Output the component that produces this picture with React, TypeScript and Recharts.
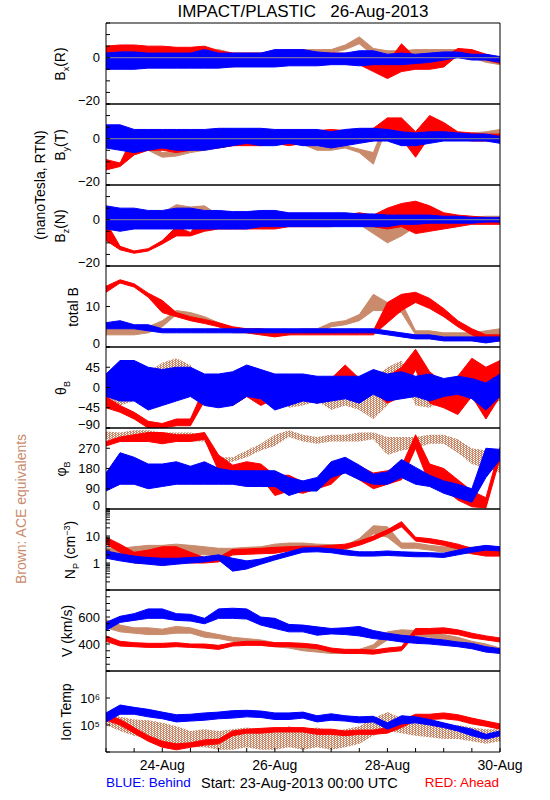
import React from 'react';
import { ComposedChart, Area, XAxis, YAxis, ReferenceLine } from 'recharts';

const BLUE = '#0000ff';
const RED = '#ff0000';
const BROWN = '#c98b6c';
const FONT = '"Liberation Sans", Arial, sans-serif';

// hours since 23-Aug-2013 00:00 UTC
const hours = [0, 6, 12, 18, 24, 30, 36, 42, 48, 54, 60, 66, 72, 78, 84, 90, 96, 102, 108, 114, 120, 126, 132, 138, 144, 150, 156, 162, 168];
const timeTicks = [0, 12, 24, 36, 48, 60, 72, 84, 96, 108, 120, 132, 144, 156, 168];
const dayTickAt = [24, 72, 120, 168];
const dayTickText = ['24-Aug', '26-Aug', '28-Aug', '30-Aug'];

// each entry: [low, high] spread of the samples in that 6 h slot
// Bx (R), nT
const bxBehind = [[-5, 2], [-5, 2.5], [-5, 2.5], [-4.5, 2], [-4.5, 2], [-4.5, 2], [-4.5, 2], [-4.5, 3.5], [-4.5, 2], [-4, 2], [-4, 2], [-4, 2], [-4, 3.5], [-3.5, 3.5], [-3.5, 3.5], [-3.5, 2.5], [-3, 2], [-3, 2], [-3.5, 3], [-3, 3], [-3, 1.5], [-3, 2], [-2.5, 1.5], [-2, 2], [-1, 2.5], [0, 2.5], [-1, 1.5], [-1, 1.5], [-2, 0.5]];
const bxAhead = [[-3, 5], [1.5, 5.5], [1.5, 5.5], [1, 5], [0, 5], [1.5, 4.5], [2, 4.5], [2.5, 5], [-3, 3], [-4, 2], [-3, 2], [-3, 2], [-3, 2], [-3, 2], [-3, 2], [-3, 2], [-2.5, 2], [-2.5, 2], [-3, 1], [-6, 0], [-9, -2], [-6, 6], [-5, 0], [-5, 0], [-4, 0], [1, 4], [1, 3.5], [-1, 1.5], [-2.5, 0]];
const bxAce = [[2.5, 5], [2.5, 5], [2.5, 4.5], [2, 4], [2, 4], [2, 4], [2, 4], [2, 4], [1, 3.5], [0, 2], [0, 2], [0, 2], [1, 3], [2, 3.5], [2, 3.5], [2, 3.5], [2, 3.5], [3.5, 5.5], [6, 9], [1, 4], [0, 3], [1, 3], [1.5, 3.5], [1.5, 3.5], [1.5, 3.5], [1, 3.5], [0, 2.5], [-2, 1], [-3, 0]];

// By (T), nT
const byBehind = [[-4, 6], [-5, 6], [-6, 4], [-5, 4], [-4, 4], [-5, 4], [-5, 4], [-5, 4], [-4, 4.5], [-3, 4.5], [-2, 4.5], [-3, 4.5], [-3, 4], [-2, 4], [-3, 4], [-3, 4], [-4, 3], [-3, 4], [-2, 4.5], [-1, 4.5], [-1, 4], [-3, 3], [-3, 2.5], [-2, 3], [-1, 3], [-1, 2.5], [-1, 2], [-1, 2], [-2, 1]];
const byAhead = [[-13.5, -9], [-12, -10.5], [-7, 2], [-5, 3], [-5, 3], [-6, 3], [-5, 3], [-4, 3], [-4, 3], [-3, 3], [-3, 3.5], [-3, 3.5], [-2, 3.5], [-3, 3], [-2, 3], [-2, 3.5], [-2, 4], [-2, 3.5], [-1, 4], [-1, 4.5], [3, 9], [0, 9], [-8, 3], [1, 10], [0, 7], [0, 3], [-1, 2.5], [-1, 2], [-1, 2]];
const byAce = [[-4, 0], [-3, 1], [-4, 0], [-5, -2], [-8, -6], [-7.5, -6], [-6, -4.5], [-5, -3.5], [-4, -2.5], [-3, -1.5], [-2.5, -1.5], [-2.5, -1.5], [-2.5, -1.5], [-2.5, -1.5], [-2.5, -1], [-5, -3.5], [-5, -4], [-4, -3], [-6, -4.5], [-11, -6], [6, 9], [0, 3], [-1, 2], [-1, 2], [0, 2], [0, 2], [0, 2.5], [0, 3], [1, 4]];

// Bz (N), nT
const bzBehind = [[-4, 6], [-5, 5], [-4, 5], [-4, 4], [-4, 4], [-4, 5], [-4, 5], [-4, 4], [-4, 4], [-4, 3.5], [-4, 3.5], [-3, 4], [-3, 4], [-3, 3], [-3, 3], [-3, 3], [-3, 3], [-3, 3], [-3, 2.5], [-3, 2.5], [-3, 2], [-2, 2], [-2, 2], [-1.5, 2], [-1.5, 1.5], [-1.5, 1.5], [-1.5, 1], [-1, 1], [-1, 1]];
const bzAhead = [[-9, -1], [-13, -11.5], [-14.5, -13.5], [-13.5, -12.5], [-10.5, -9], [-7, -3], [-7, -5.5], [-5, 2], [-4, 2], [-4, 3], [-4, 2], [-4, 2], [-4, 2], [-3, 2], [-3, 2], [-3, 2], [-3, 2], [-2, 2], [-2, 3], [-3, 2], [-4, 5], [-3, 7], [-6, 8], [-5, 6], [-4, 3], [-3, 2], [-2, 1.5], [-2, 1], [-2, 1]];
const bzAce = [[-4, 0], [-3, 1], [-3, 1], [-2, 2], [0, 3], [4, 6.5], [3.5, 5.5], [3, 6], [-1, 2], [-2, 1], [-2, 1], [-2, 1], [-2, 1], [-2, 1], [-2, 1], [-2, 1], [-2, 1], [-2, 1], [-2, 0.5], [-6, 1], [-10, -3], [-7, -2], [-3, 1], [-2, 1], [-2, 1], [-2, 1], [-1.5, 1], [-1, 1.5], [-1, 1.5]];

// total B, nT
const btBehind = [[4.5, 6], [4.5, 6.5], [4.5, 5.5], [4, 5.5], [3.5, 4.5], [3.5, 4.5], [3.5, 4.5], [3.5, 4.5], [3.5, 4.5], [3.5, 4.5], [3.5, 4.5], [3.5, 4.5], [3.5, 4.5], [3.5, 4.5], [3.5, 4.5], [3.5, 4.5], [3.5, 4.5], [3.5, 4.5], [3.5, 4.5], [3.5, 4.5], [3, 4], [2.5, 3.5], [2, 3], [2, 3], [1.5, 2.5], [1.5, 2.5], [1.5, 2.5], [1, 2.5], [1.5, 2.5]];
const btAhead = [[13.5, 15], [15.8, 16.6], [14.8, 15.6], [12.3, 13.3], [8.5, 11.5], [7.5, 8.5], [6.5, 7.5], [5.8, 6.8], [5, 6], [4, 5], [3.5, 4.5], [3, 4.5], [2.5, 4], [3, 4], [3, 4], [3, 4], [3, 4], [3, 4], [3, 4], [3, 4], [6, 11], [9, 13], [11, 13.5], [9.5, 12], [7.5, 9.5], [5, 6.5], [3, 4.5], [1.5, 3], [1.5, 3]];
const btAce = [[3, 4.5], [3, 4.5], [3, 4.5], [3.5, 5], [5, 6.5], [8, 9], [7.5, 8.5], [6.5, 7.5], [5, 6], [3.5, 4.5], [3.5, 4.5], [3, 4], [3, 4], [3, 4], [3.5, 4.5], [3.5, 4.5], [5, 6], [5.5, 6.5], [6.5, 8], [9, 13], [9, 11], [8.5, 11], [3, 4], [3, 4], [2.5, 3.5], [2.5, 3.5], [2, 3.5], [2.5, 4], [3, 4.5]];

// theta_B, deg (dense core of the scatter)
const thBehind = [[-20, 30], [-30, 60], [-30, 60], [-50, 45], [-40, 40], [-30, 45], [-20, 45], [-40, 30], [-45, 30], [-40, 35], [-20, 50], [-25, 40], [-50, 30], [-40, 30], [-30, 30], [-35, 25], [-30, 25], [-25, 25], [-35, 25], [-15, 40], [-30, 30], [-25, 35], [-20, 25], [-30, 30], [-20, 20], [-15, 25], [-25, 20], [-50, 10], [-20, 30]];
const thAhead = [[-45, -20], [-55, -40], [-70, -55], [-90, -75], [-90, -80], [-85, -70], [-85, -70], [-30, 0], [-25, 15], [-40, 10], [-20, 25], [-40, 10], [-25, 20], [-30, 10], [-25, 10], [-35, 10], [-20, 20], [15, 50], [-20, 20], [-10, 20], [-35, 25], [-20, 45], [40, 85], [-35, 35], [-45, 10], [-60, 25], [-20, 65], [-70, 45], [-20, 60]];
const thAce = [[-20, 30], [-40, 20], [-30, 5], [10, 35], [25, 55], [35, 65], [20, 50], [-30, 10], [-20, 20], [-40, 10], [-20, 20], [-30, 10], [-20, 10], [-45, 0], [-40, -5], [-30, -5], [-50, -15], [-40, -5], [-50, -10], [-70, 20], [-40, 45], [30, 60], [-40, 0], [-45, -5], [-30, 10], [-45, 0], [-20, 20], [-45, 10], [-30, 30]];

// phi_B, deg (dense core of the scatter)
const phBehind = [[80, 160], [110, 250], [110, 230], [90, 200], [100, 200], [110, 210], [110, 190], [110, 210], [110, 180], [110, 170], [100, 170], [100, 170], [100, 170], [60, 140], [80, 125], [80, 140], [140, 210], [160, 230], [130, 195], [110, 155], [110, 165], [140, 220], [110, 185], [100, 150], [70, 125], [50, 110], [30, 90], [140, 270], [220, 265]];
const phAhead = [[280, 300], [300, 320], [300, 330], [300, 340], [290, 340], [300, 330], [300, 330], [310, 340], [170, 240], [160, 195], [160, 210], [140, 200], [60, 150], [80, 150], [70, 120], [90, 135], [110, 155], [170, 220], [130, 190], [90, 160], [110, 170], [130, 190], [270, 330], [110, 200], [90, 180], [40, 130], [10, 80], [5, 50], [225, 275]];
const phAce = [[310, 345], [300, 340], [320, 350], [320, 350], [310, 340], [310, 340], [300, 340], [300, 330], [200, 230], [210, 230], [230, 260], [260, 290], [280, 330], [320, 350], [300, 330], [290, 320], [300, 330], [300, 330], [300, 340], [310, 340], [240, 320], [260, 320], [270, 320], [290, 330], [290, 330], [250, 310], [200, 270], [180, 260], [160, 230]];

// proton density, cm^-3
const npBehind = [[1.5, 2.8], [1.2, 2.2], [1.0, 1.8], [0.9, 1.6], [0.8, 1.5], [0.9, 1.5], [1.0, 1.6], [1.1, 1.7], [1.3, 2.0], [0.5, 1.5], [0.6, 1.2], [0.9, 1.4], [1.3, 1.9], [1.8, 2.6], [2.5, 3.6], [2.6, 3.7], [2.4, 3.4], [2.0, 3.0], [1.8, 2.6], [1.8, 2.6], [1.9, 2.8], [1.8, 2.6], [1.7, 2.5], [1.7, 2.4], [1.6, 2.3], [2.0, 3.0], [2.5, 3.8], [3.0, 4.5], [2.8, 4.0]];
const npAhead = [[5, 9], [2.5, 5], [1.0, 2.5], [1.0, 3.0], [0.9, 4.0], [1.2, 4.0], [1.0, 2.5], [1.0, 1.6], [1.1, 1.6], [2.0, 3.2], [2.1, 3.3], [2.2, 3.5], [2.3, 3.8], [2.8, 4.0], [3.0, 4.2], [3.0, 4.2], [3.0, 4.5], [3.4, 5.0], [4.5, 6.5], [7, 10], [12, 17], [22, 34], [6.5, 9.0], [5.5, 8], [4.5, 6.5], [3.3, 5], [2.2, 3.5], [1.8, 3.0], [1.8, 3.2]];
const npAce = [[1.5, 3.5], [1.8, 3.5], [2.0, 4.0], [2.0, 4.5], [2.0, 4.5], [2.2, 5.0], [2.2, 4.5], [2.0, 4.0], [1.8, 3.5], [2.0, 3.5], [2.2, 3.8], [2.5, 4.0], [3.0, 5.0], [3.5, 5.5], [3.5, 5.5], [3.5, 5.0], [3.2, 4.8], [3.0, 4.5], [5, 8], [12, 24], [9, 22], [3.5, 5.5], [3.5, 5.5], [3.0, 4.5], [2.5, 4.0], [2.5, 4.0], [2.2, 3.8], [2.0, 3.5], [2.0, 3.2]];

// bulk speed, km/s
const vBehind = [[500, 560], [560, 605], [575, 625], [590, 660], [590, 660], [575, 625], [570, 620], [550, 590], [590, 660], [590, 665], [585, 660], [540, 600], [515, 590], [490, 545], [490, 540], [465, 527], [475, 515], [470, 520], [460, 530], [440, 500], [430, 480], [415, 465], [405, 455], [400, 440], [390, 430], [380, 415], [365, 405], [340, 380], [330, 365]];
const vAhead = [[420, 460], [385, 420], [380, 410], [375, 405], [375, 405], [380, 410], [375, 400], [370, 400], [360, 390], [385, 410], [390, 420], [390, 420], [380, 410], [380, 410], [375, 405], [365, 395], [340, 370], [330, 360], [330, 360], [325, 355], [340, 370], [350, 380], [470, 515], [475, 515], [480, 520], [470, 505], [445, 480], [430, 460], [415, 445]];
const vAce = [[520, 580], [490, 540], [480, 520], [470, 520], [470, 510], [480, 530], [480, 520], [450, 490], [440, 470], [420, 450], [400, 440], [390, 430], [380, 410], [370, 400], [350, 380], [340, 370], [330, 360], [330, 360], [330, 360], [360, 395], [430, 490], [460, 505], [460, 500], [450, 490], [430, 470], [410, 450], [390, 420], [370, 400], [340, 370]];

// ion temperature, K
const tBehind = [[1.3e5, 2.8e5], [2.5e5, 5.5e5], [2.5e5, 4.5e5], [2.0e5, 3.8e5], [1.7e5, 3.0e5], [1.3e5, 2.4e5], [1.4e5, 2.5e5], [1.5e5, 2.8e5], [1.7e5, 3.0e5], [1.8e5, 3.4e5], [2.0e5, 3.5e5], [1.9e5, 3.3e5], [1.6e5, 2.8e5], [1.6e5, 2.8e5], [1.8e5, 3.0e5], [1.3e5, 2.2e5], [1.5e5, 2.6e5], [1.4e5, 2.2e5], [1.2e5, 2.0e5], [1.3e5, 2.1e5], [7e4, 1.2e5], [1.1e5, 2.2e5], [1.2e5, 2.0e5], [1.0e5, 1.6e5], [8e4, 1.2e5], [6e4, 9e4], [4e4, 7e4], [3e4, 4.5e4], [4e4, 6e4]];
const tAhead = [[1.5e5, 2.5e5], [1.0e5, 1.6e5], [5e4, 8e4], [2.5e4, 4e4], [1.5e4, 2.5e4], [1.2e4, 2e4], [1.5e4, 2.2e4], [1.8e4, 2.8e4], [2e4, 3e4], [4e4, 6e4], [5e4, 7e4], [5e4, 7.5e4], [5.5e4, 8e4], [5.5e4, 8e4], [5.5e4, 8e4], [4.5e4, 7e4], [4.5e4, 7e4], [4e4, 6e4], [4.5e4, 6.5e4], [4.5e4, 6.5e4], [5e4, 8e4], [8e4, 1.5e5], [1.5e5, 2.5e5], [1.6e5, 2.5e5], [1.7e5, 2.8e5], [1.5e5, 2.4e5], [1.1e5, 1.8e5], [9e4, 1.4e5], [7e4, 1.1e5]];
const tAce = [[1.0e5, 2.5e5], [6e4, 2.0e5], [4e4, 1.6e5], [3e4, 1.5e5], [2.5e4, 1.2e5], [2e4, 9e4], [1.5e4, 6e4], [1.5e4, 7e4], [1.2e4, 6e4], [1.2e4, 7e4], [1.5e4, 8e4], [1.2e4, 7e4], [1.2e4, 6e4], [1.5e4, 9e4], [1.2e4, 7e4], [1.5e4, 8e4], [1.2e4, 6e4], [1.5e4, 7e4], [2e4, 9e4], [4e4, 1.8e5], [6e4, 3.0e5], [5e4, 1.8e5], [4e4, 1.4e5], [3.5e4, 1.2e5], [3e4, 1.0e5], [3e4, 1.0e5], [2.5e4, 8e4], [2e4, 7e4], [2.5e4, 7e4]];

// y ticks and labelled values
const bTicks = [-20, -15, -10, -5, 0, 5, 10, 15];
const bLabels: Record<number, string> = { [-20]: '\u221220', 0: '0' };
const btTicks = [0, 10, 20];
const btLabels: Record<number, string> = { 0: '0', 10: '10' };
const thTicks = [-90, -45, 0, 45, 90];
const thLabels: Record<number, string> = { [-90]: '\u221290', [-45]: '\u221245', 0: '0', 45: '45' };
const phTicks = [0, 90, 180, 270, 360];
const phLabels: Record<number, string> = { 0: '0', 90: '90', 180: '180', 270: '270' };
const npTicks = [0.1, 0.2, 0.3, 0.4, 0.5, 0.6, 0.7, 0.8, 0.9, 1, 2, 3, 4, 5, 6, 7, 8, 9, 10, 20, 30, 40, 50, 60, 70, 80, 90, 100];
const npLabels: Record<number, string> = { 1: '1', 10: '10' };
const vTicks = [200, 250, 300, 350, 400, 450, 500, 550, 600, 650, 700, 750, 800];
const vLabels: Record<number, string> = { 400: '400', 600: '600' };
const tTicks = [1e4, 1e5, 1e6, 1e7];
const tLabels: Record<number, string> = { 100000: '10\u2075', 1000000: '10\u2076' };

const PANEL_TOP = 23;
const PANEL_H = 81;

type Pair = number[];
type Panel = {
  behind: Pair[];
  ahead: Pair[];
  ace: Pair[];
  domain: number[];
  log?: boolean;
  ticks: number[];
  labels: Record<number, string>;
  zero?: boolean;
  speckle?: boolean;
  labelX: number;
  title: React.ReactNode;
};

const sub = (s: string) => <sub style={{ fontSize: 9 }}>{s}</sub>;

const panels: Panel[] = [
  { behind: bxBehind, ahead: bxAhead, ace: bxAce, domain: [-20, 15], ticks: bTicks, labels: bLabels, zero: true, labelX: 62, title: <>B{sub('x')}(R)</> },
  { behind: byBehind, ahead: byAhead, ace: byAce, domain: [-20, 15], ticks: bTicks, labels: bLabels, zero: true, labelX: 62, title: <>B{sub('y')}(T)</> },
  { behind: bzBehind, ahead: bzAhead, ace: bzAce, domain: [-20, 15], ticks: bTicks, labels: bLabels, zero: true, labelX: 62, title: <>B{sub('z')}(N)</> },
  { behind: btBehind, ahead: btAhead, ace: btAce, domain: [0, 20], ticks: btTicks, labels: btLabels, labelX: 73, title: <>total B</> },
  { behind: thBehind, ahead: thAhead, ace: thAce, domain: [-90, 90], ticks: thTicks, labels: thLabels, speckle: true, labelX: 63, title: <>&theta;{sub('B')}</> },
  { behind: phBehind, ahead: phAhead, ace: phAce, domain: [0, 360], ticks: phTicks, labels: phLabels, speckle: true, labelX: 63, title: <>&phi;{sub('B')}</> },
  { behind: npBehind, ahead: npAhead, ace: npAce, domain: [0.1, 100], log: true, ticks: npTicks, labels: npLabels, labelX: 72, title: <>N{sub('P')} (cm<sup style={{ fontSize: 9 }}>{'\u22123'}</sup>)</> },
  { behind: vBehind, ahead: vAhead, ace: vAce, domain: [200, 800], ticks: vTicks, labels: vLabels, labelX: 67, title: <>V (km/s)</> },
  { behind: tBehind, ahead: tAhead, ace: tAce, domain: [1e4, 1e7], log: true, ticks: tTicks, labels: tLabels, speckle: true, labelX: 66, title: <>Ion Temp</> },
];

// left tick label; the one at the bottom of the range sits a little higher, as in the IDL plot
function YTick(props: any) {
  const { x, y, payload, labels, min } = props;
  const text = labels[payload.value];
  if (!text) return <g />;
  const dy = payload.value === min ? -4 : 0;
  return (
    <text x={x} y={y + dy} textAnchor="end" dominantBaseline="central" fontSize={13} fontFamily={FONT} fill="#000">{text}</text>
  );
}

function PanelChart({ p, index, last }: { p: Panel; index: number; last: boolean }) {
  const rows = hours.map((h, i) => ({ h, behind: p.behind[i], ahead: p.ahead[i], ace: p.ace[i] }));
  const axisH = last ? 30 : 5;
  const padBottom = last ? 5 : 10;
  const top = PANEL_TOP + index * PANEL_H - 5;
  const speckId = `speck-${index}`;
  const dayFmt = (v: number) => {
    const k = dayTickAt.indexOf(v);
    return k >= 0 ? dayTickText[k] : '';
  };
  return (
    <div style={{ position: 'absolute', left: 0, top }}>
      <ComposedChart width={550} height={PANEL_H + 5 + axisH + padBottom} data={rows} margin={{ top: 0, right: 40, bottom: padBottom, left: 0 }}>
        <defs>
          <pattern id={speckId} width="3" height="2" patternUnits="userSpaceOnUse">
            <rect width="2" height="1" fill={BROWN} />
            <rect x="1" y="1" width="2" height="1" fill={BROWN} />
          </pattern>
        </defs>
        <XAxis xAxisId="top" orientation="top" type="number" dataKey="h" domain={[0, 168]} ticks={timeTicks} interval={0}
          height={5} tick={false} tickSize={-4} stroke="#000" allowDataOverflow />
        <XAxis xAxisId="bot" orientation="bottom" type="number" dataKey="h" domain={[0, 168]} ticks={timeTicks} interval={0}
          height={axisH} tick={last ? { fontSize: 14, fill: '#000', fontFamily: FONT } : false} tickFormatter={dayFmt}
          tickSize={-4} tickMargin={12} stroke="#000" allowDataOverflow />
        <YAxis yAxisId="l" orientation="left" width={106} type="number" scale={p.log ? 'log' : 'linear'} domain={p.domain}
          ticks={p.ticks} interval={0} tick={(tp: any) => <YTick {...tp} labels={p.labels} min={p.domain[0]} />}
          tickSize={-4} tickMargin={10} stroke="#000" allowDataOverflow />
        <YAxis yAxisId="r" orientation="right" width={10} type="number" scale={p.log ? 'log' : 'linear'} domain={p.domain}
          ticks={p.ticks} interval={0} tick={false} tickSize={-4} stroke="#000" allowDataOverflow />
        {p.zero && <ReferenceLine xAxisId="bot" yAxisId="l" y={0} stroke="#8c8c8c" strokeWidth={1} />}
        <Area xAxisId="bot" yAxisId="l" dataKey="ace" type="linear" stroke={p.speckle ? 'none' : BROWN}
          fill={p.speckle ? `url(#${speckId})` : BROWN} fillOpacity={1}
          strokeWidth={1} dot={false} activeDot={false} isAnimationActive={false} />
        <Area xAxisId="bot" yAxisId="l" dataKey="ahead" type="linear" stroke={RED} fill={RED} fillOpacity={1}
          strokeWidth={1} dot={false} activeDot={false} isAnimationActive={false} />
        <Area xAxisId="bot" yAxisId="l" dataKey="behind" type="linear" stroke={BLUE} fill={BLUE} fillOpacity={1}
          strokeWidth={1} dot={false} activeDot={false} isAnimationActive={false} />
      </ComposedChart>
    </div>
  );
}

function SideText({ x, y, color = '#000', children }: { x: number; y: number; color?: string; children: React.ReactNode }) {
  return (
    <div style={{
      position: 'absolute', left: x, top: y, transform: 'translate(-50%, -50%) rotate(-90deg)',
      whiteSpace: 'nowrap', fontSize: 14, lineHeight: 1, color, fontFamily: FONT,
    }}>{children}</div>
  );
}

export default function App() {
  return (
    <div style={{ position: 'absolute', left: 0, top: 0, width: 550, height: 800, background: '#fff', fontFamily: FONT, overflow: 'hidden' }}>
      <div style={{ position: 'absolute', left: 0, width: 550, top: 2, paddingLeft: 56, boxSizing: 'border-box', textAlign: 'center', fontSize: 17, whiteSpace: 'pre' }}>
        {'IMPACT/PLASTIC   26-Aug-2013'}
      </div>
      {panels.map((p, i) => (
        <PanelChart key={i} p={p} index={i} last={i === panels.length - 1} />
      ))}
      {panels.map((p, i) => (
        <SideText key={'t' + i} x={p.labelX} y={PANEL_TOP + i * PANEL_H + PANEL_H / 2}>{p.title}</SideText>
      ))}
      <SideText x={40} y={185}>(nanoTesla, RTN)</SideText>
      <SideText x={21} y={509} color={BROWN}>Brown: ACE equivalents</SideText>
      <div style={{ position: 'absolute', left: 106, top: 775, fontSize: 13.5, color: BLUE }}>BLUE: Behind</div>
      <div style={{ position: 'absolute', left: 201, top: 775, fontSize: 14.5, color: '#000' }}>Start: 23-Aug-2013 00:00 UTC</div>
      <div style={{ position: 'absolute', right: 51, top: 775, fontSize: 13.5, color: RED }}>RED: Ahead</div>
    </div>
  );
}
